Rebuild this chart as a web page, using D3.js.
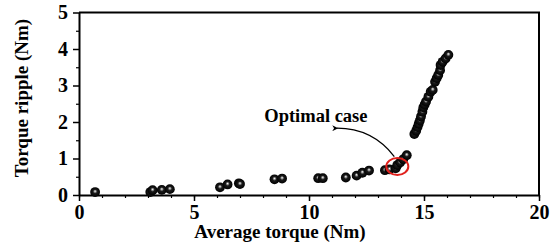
<!DOCTYPE html>
<html>
<head>
<meta charset="utf-8">
<script src="https://cdn.jsdelivr.net/npm/d3@7"></script>
<style>
  body { margin: 0; background: #fff; }
</style>
</head>
<body>
<div id="chart"></div>
<script>
// torque values
const avgTorque = [0.7, 3.1, 3.2, 3.6, 3.95, 6.13, 6.46, 6.95, 7.0, 8.5, 8.83,
  10.4, 10.6, 11.6, 12.07, 12.32, 12.61, 13.3, 13.5, 13.77, 13.84, 13.96, 14.1, 14.25,
  14.58, 14.66, 14.72, 14.77, 14.82, 14.87, 14.93, 14.97, 15.03, 15.09, 15.19, 15.29,
  15.38, 15.48, 15.55, 15.62, 15.7, 15.72, 15.81, 15.94, 16.06];
const torqueRipple = [0.08, 0.08, 0.13, 0.14, 0.16, 0.21, 0.29, 0.32, 0.3, 0.43, 0.45,
  0.46, 0.46, 0.48, 0.53, 0.61, 0.67, 0.68, 0.7, 0.73, 0.82, 0.89, 0.98, 1.09,
  1.67, 1.76, 1.86, 1.95, 2.04, 2.15, 2.28, 2.4, 2.48, 2.56, 2.69, 2.83,
  2.88, 3.1, 3.2, 3.29, 3.42, 3.56, 3.65, 3.74, 3.84];
const xTicks = [0, 5, 10, 15, 20];
const yTicks = [0, 1, 2, 3, 4, 5];
const optimal = { x: 13.84, y: 0.78 };
const optimalLabel = "Optimal case";

const FONT = '"Liberation Serif", "Times New Roman", serif';

const width = 550, height = 243;
const margin = { top: 12.5, right: 11, bottom: 48, left: 79 };
const innerWidth = width - margin.left - margin.right;
const innerHeight = height - margin.top - margin.bottom;

const svg = d3.select("#chart").append("svg")
  .attr("width", width).attr("height", height)
  .attr("font-family", FONT).attr("font-weight", "bold");

const defs = svg.append("defs");
const grad = defs.append("radialGradient").attr("id", "ball")
  .attr("cx", "50%").attr("cy", "50%").attr("r", "50%")
  .attr("fx", "50%").attr("fy", "40%");
grad.append("stop").attr("offset", "0%").attr("stop-color", "#ffffff");
grad.append("stop").attr("offset", "18%").attr("stop-color", "#9a9a9a");
grad.append("stop").attr("offset", "42%").attr("stop-color", "#1a1a1a");
grad.append("stop").attr("offset", "100%").attr("stop-color", "#000");
defs.append("marker").attr("id", "arrow")
  .attr("viewBox", "0 0 10 10").attr("refX", 2).attr("refY", 5)
  .attr("markerWidth", 7).attr("markerHeight", 6).attr("orient", "auto-start-reverse")
  .attr("markerUnits", "userSpaceOnUse")
  .append("path").attr("d", "M0,5 L10,0 L7,5 L10,10 Z").attr("fill", "#000");

const g = svg.append("g").attr("transform", `translate(${margin.left},${margin.top})`);

const x = d3.scaleLinear().domain([0, 20]).range([0, innerWidth]);
const y = d3.scaleLinear().domain([0, 5]).range([innerHeight, 0]);

// minor ticks
g.append("g").attr("transform", `translate(0,${innerHeight})`)
  .call(d3.axisBottom(x).ticks(20).tickSize(3).tickFormat(""))
  .call(a => a.select(".domain").remove())
  .selectAll("line").attr("stroke-width", 1.2);
g.append("g")
  .call(d3.axisLeft(y).tickValues(d3.range(0.5, 5, 1)).tickSize(3).tickFormat(""))
  .call(a => a.select(".domain").remove())
  .selectAll("line").attr("stroke-width", 1.2);

// major axes
const xAxis = g.append("g").attr("transform", `translate(0,${innerHeight})`)
  .call(d3.axisBottom(x).tickValues(xTicks).tickFormat(d3.format("d"))
    .tickSize(6).tickPadding(4).tickSizeOuter(0));
const yAxis = g.append("g")
  .call(d3.axisLeft(y).tickValues(yTicks).tickFormat(d3.format("d"))
    .tickSize(6).tickPadding(5).tickSizeOuter(0));
[xAxis, yAxis].forEach(a => {
  a.attr("font-family", FONT).attr("font-size", 20).attr("font-weight", "bold");
  a.select(".domain").attr("stroke-width", 2);
  a.selectAll(".tick line").attr("stroke-width", 1.5);
  a.selectAll("text").attr("fill", "#000");
});

// frame top/right
g.append("path")
  .attr("d", `M0,0 H${innerWidth} V${innerHeight}`)
  .attr("fill", "none").attr("stroke", "#000").attr("stroke-width", 2);

// points
g.selectAll("circle.pt").data(avgTorque).enter().append("circle")
  .attr("class", "pt")
  .attr("cx", d => x(d))
  .attr("cy", (d, i) => y(torqueRipple[i]))
  .attr("r", 4.9)
  .attr("fill", "url(#ball)");

// optimal case marker
g.append("ellipse")
  .attr("cx", x(optimal.x)).attr("cy", y(optimal.y))
  .attr("rx", 11).attr("ry", 8.5)
  .attr("fill", "none").attr("stroke", "#e0201c").attr("stroke-width", 2);

// arrow
const ax0 = x(optimal.x) - 3, ay0 = y(optimal.y) - 10;
const ax1 = x(11.22), ay1 = y(1.83);
g.append("path")
  .attr("d", `M${ax0},${ay0} Q${ax0 - 22},${ay1} ${ax1},${ay1}`)
  .attr("fill", "none").attr("stroke", "#000").attr("stroke-width", 1.3)
  .attr("marker-end", "url(#arrow)");

g.append("text")
  .attr("x", x(10.3)).attr("y", y(2.0))
  .attr("text-anchor", "middle")
  .attr("font-size", 18.5)
  .text(optimalLabel);

// axis titles
svg.append("text")
  .attr("x", 280).attr("y", 238)
  .attr("text-anchor", "middle").attr("font-size", 19)
  .text("Average torque (Nm)");
svg.append("text")
  .attr("transform", `translate(28,98) rotate(-90)`)
  .attr("text-anchor", "middle").attr("font-size", 19)
  .text("Torque ripple (Nm)");
</script>
</body>
</html>
